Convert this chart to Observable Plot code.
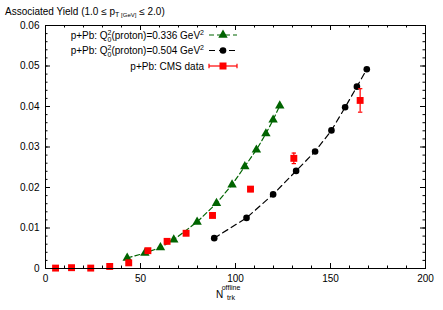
<!DOCTYPE html>
<html>
<head>
<meta charset="utf-8">
<script src="https://cdn.jsdelivr.net/npm/d3@7"></script>
<script src="https://cdn.jsdelivr.net/npm/@observablehq/plot@0.6"></script>
<style>
  html, body { margin: 0; padding: 0; background: #fff; }
  #title { height: 18px; overflow: visible; font: 10px "Liberation Sans", Arial, sans-serif; padding-left: 5px; line-height: 24px; white-space: nowrap; color: #000; }
  #title sub { font-size: 7px; vertical-align: -2px; line-height: 0; }
  #title .small { font-size: 6px; }
  #chart { height: 292px; }
</style>
</head>
<body>
<div id="title">Associated Yield (1.0 ≤ p<sub>T <span class="small">[GeV]</span></sub> ≤ 2.0)</div>
<div id="chart"></div>
<script>
// ---- data ----
const cmsN   = [5.3, 13.7, 23.8, 33.8, 43.8, 53.9, 64.0, 74.0, 87.9, 107.9, 130.7, 165.6];
const cmsY   = [0.0001, 0.0002, 0.0001, 0.0005, 0.0014, 0.0044, 0.0067, 0.0087, 0.0131, 0.0196, 0.0272, 0.0415];
const cmsErr = [0.0001, 0.0001, 0.0001, 0.0001, 0.0002, 0.0002, 0.0002, 0.0003, 0.0003, 0.0006, 0.0013, 0.0029];

const q336N = [43.0, 52.3, 60.5, 67.5, 79.8, 90.0, 98.2, 104.9, 111.0, 116.0, 119.8, 123.3];
const q336Y = [0.0026, 0.0038, 0.0052, 0.0071, 0.0115, 0.0161, 0.0207, 0.0252, 0.0293, 0.0333, 0.0367, 0.0402];

const q504N = [88.8, 105.8, 119.8, 131.9, 141.9, 150.5, 157.7, 163.9, 169.1];
const q504Y = [0.0075, 0.0125, 0.0183, 0.0241, 0.0289, 0.0341, 0.0398, 0.0449, 0.0492];

const xMajor = [0, 50, 100, 150, 200];
const xMinor = d3.range(0, 201, 10);
const yMajor = [0, 0.01, 0.02, 0.03, 0.04, 0.05, 0.06];
const yMinor = d3.range(0, 31).map(i => i * 0.002);

const legendLabels = ["0.336", "0.504"];

// ---- tables ----
const cms = cmsN.map((n, i) => ({n, y: cmsY[i], lo: cmsY[i] - cmsErr[i], hi: cmsY[i] + cmsErr[i]}));
const g336 = q336N.map((n, i) => ({n, y: q336Y[i]}));
const g504 = q504N.map((n, i) => ({n, y: q504Y[i]}));

const W = 443, H = 292, mT = 7, mB = 42, mL = 45, mR = 18;
const fh = H - mT - mB, fw = W - mL - mR;
const GREEN = "#006400", RED = "#ff0000";
const cap = {draw(ctx, size) { ctx.moveTo(-2.2, 0); ctx.lineTo(2.2, 0); }};

const plot = Plot.plot({
  width: W, height: H,
  marginTop: mT, marginBottom: mB, marginLeft: mL, marginRight: mR,
  style: {fontFamily: "'Liberation Sans', Arial, sans-serif", fontSize: "10px", color: "#000", background: "#fff"},
  x: {domain: [0, 200]},
  y: {domain: [0, 0.06]},
  marks: [
    // ticks (inward, all four sides)
    Plot.tickX(xMinor, {x: d => d, insetTop: fh - 2.5, stroke: "#000"}),
    Plot.tickX(xMinor, {x: d => d, insetBottom: fh - 2.5, stroke: "#000"}),
    Plot.tickX(xMajor, {x: d => d, insetTop: fh - 5, stroke: "#000"}),
    Plot.tickX(xMajor, {x: d => d, insetBottom: fh - 5, stroke: "#000"}),
    Plot.tickY(yMinor, {y: d => d, insetRight: fw - 2.5, stroke: "#000"}),
    Plot.tickY(yMinor, {y: d => d, insetLeft: fw - 2.5, stroke: "#000"}),
    Plot.tickY(yMajor, {y: d => d, insetRight: fw - 5, stroke: "#000"}),
    Plot.tickY(yMajor, {y: d => d, insetLeft: fw - 5, stroke: "#000"}),
    Plot.axisX({ticks: xMajor, tickSize: 0, tickPadding: 6, label: null, tickFormat: d => String(d)}),
    Plot.axisY({ticks: yMajor, tickSize: 0, tickPadding: 6, label: null, tickFormat: d => d === 0 ? "0" : d.toFixed(2)}),
    // curves
    Plot.line(g336, {x: "n", y: "y", stroke: GREEN, strokeWidth: 1.2, strokeDasharray: "5,3"}),
    Plot.dot(g336, {x: "n", y: "y", symbol: "triangle", r: 3.5, fill: GREEN}),
    Plot.line(g504, {x: "n", y: "y", stroke: "#000", strokeWidth: 1.2, strokeDasharray: "6,4"}),
    Plot.dot(g504, {x: "n", y: "y", symbol: "circle", r: 3.3, fill: "#000"}),
    // CMS data
    Plot.ruleX(cms, {x: "n", y1: "lo", y2: "hi", stroke: RED, strokeWidth: 1.2}),
    Plot.dot(cms, {x: "n", y: "lo", symbol: cap, stroke: RED, strokeWidth: 1.2}),
    Plot.dot(cms, {x: "n", y: "hi", symbol: cap, stroke: RED, strokeWidth: 1.2}),
    Plot.dot(cms, {x: "n", y: "y", symbol: "square", r: 3.9, fill: RED}),
    Plot.frame({stroke: "#000", strokeWidth: 1})
  ]
});
document.getElementById("chart").appendChild(plot);

// ---- x-axis label and legend (text) ----
const svg = d3.select(plot);
const xs = plot.scale("x");
const xc = xs.apply(100);
svg.append("text").attr("x", xc - 15.5).attr("y", 280).attr("font-size", 10).attr("fill", "#000").text("N");
svg.append("text").attr("x", xc - 4).attr("y", 272).attr("font-size", 7).attr("fill", "#000").text("offline");
svg.append("text").attr("x", xc - 4).attr("y", 281.5).attr("font-size", 7).attr("fill", "#000").text("trk");

const legY = [17, 32.5, 48];
const textX = 204, s0 = 209, s1 = 237, sm = 223;
legendLabels.forEach((lab, i) => {
  const t = svg.append("text").attr("x", textX).attr("y", legY[i] + 3.5)
    .attr("text-anchor", "end").attr("font-size", 10).attr("fill", "#000");
  t.append("tspan").text("p+Pb: Q");
  t.append("tspan").attr("font-size", 7).attr("dy", -4).text("2");
  t.append("tspan").attr("font-size", 7).attr("dx", -4).attr("dy", 7).text("0");
  t.append("tspan").attr("dy", -3).text(`(proton)=${lab} GeV`);
  t.append("tspan").attr("font-size", 7).attr("dy", -4).text("2");
  const col = i === 0 ? GREEN : "#000";
  svg.append("line").attr("x1", s0).attr("x2", s1).attr("y1", legY[i]).attr("y2", legY[i])
    .attr("stroke", col).attr("stroke-width", 1.2).attr("stroke-dasharray", i === 0 ? "5,3" : "6,4");
  if (i === 0) {
    svg.append("path").attr("d", d3.symbol(d3.symbolTriangle, Math.PI * 3.5 * 3.5)())
      .attr("transform", `translate(${sm},${legY[i]})`).attr("fill", GREEN);
  } else {
    svg.append("circle").attr("cx", sm).attr("cy", legY[i]).attr("r", 3.3).attr("fill", "#000");
  }
});
// CMS legend entry
svg.append("text").attr("x", textX).attr("y", legY[2] + 3.5).attr("text-anchor", "end")
  .attr("font-size", 10).attr("fill", "#000").text("p+Pb: CMS data");
svg.append("line").attr("x1", s0).attr("x2", s1).attr("y1", legY[2]).attr("y2", legY[2])
  .attr("stroke", RED).attr("stroke-width", 1.2);
[s0, s1].forEach(x => svg.append("line").attr("x1", x).attr("x2", x)
  .attr("y1", legY[2] - 2.2).attr("y2", legY[2] + 2.2).attr("stroke", RED).attr("stroke-width", 1.2));
svg.append("rect").attr("x", sm - 3.5).attr("y", legY[2] - 3.5).attr("width", 7).attr("height", 7).attr("fill", RED);
</script>
</body>
</html>
